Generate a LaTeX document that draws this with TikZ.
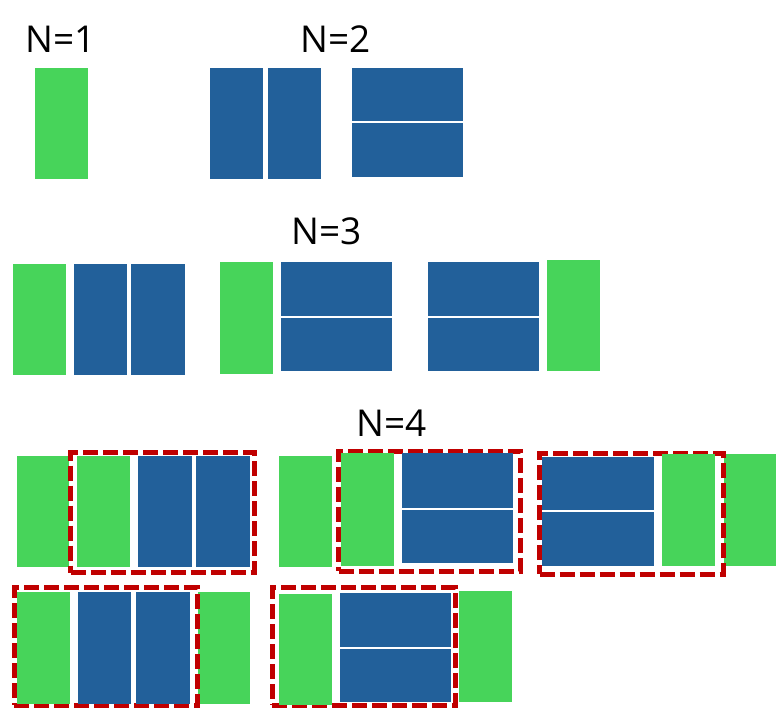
\documentclass[tikz,border=0pt]{standalone}
\usepackage{fontspec}
\setmainfont{Open Sans}
\definecolor{gr}{HTML}{47D45A}
\definecolor{bl}{HTML}{22609A}
\definecolor{rd}{HTML}{C00000}
\newcommand\blk[6]{\node[blk,fill=#6,minimum width={#4-#2},minimum height={#5-#3}] (#1) at ({(#2+#4)/2},{(#3+#5)/2}) {};}
\newcommand\grp[5]{\node[grpbox,minimum width={#4-#2},minimum height={#5-#3}] (#1) at ({(#2+#4)/2},{(#3+#5)/2}) {};}
\begin{document}
\begin{tikzpicture}[x=1pt,y=-1pt,
  blk/.style={rectangle,inner sep=0pt,outer sep=0pt,draw=none},
  grpbox/.style={rectangle,inner sep=0pt,outer sep=0pt,fill=white,draw=rd,line width=5pt,dash pattern=on 15pt off 5pt},
  lbl/.style={anchor=base,inner sep=0pt,font=\fontsize{37}{40}\selectfont}]
\useasboundingbox (0,0) rectangle (776,710);
% labels
\node[lbl] (t1) at (60.5,52) {N=1};
\node[lbl] (t2) at (335.5,52) {N=2};
\node[lbl] (t3) at (326.5,244) {N=3};
\node[lbl] (t4) at (392,436) {N=4};
% N=1
\blk{a1}{35}{68}{88}{179}{gr}
% N=2
\blk{b1}{210}{68}{263}{179}{bl}
\blk{b2}{268}{68}{321}{179}{bl}
\blk{b3}{352}{68}{463}{120.5}{bl}
\blk{b4}{352}{123}{463}{177}{bl}
% N=3
\blk{c1}{13}{264}{66}{375}{gr}
\blk{c2}{74}{264}{127}{375}{bl}
\blk{c3}{131}{264}{185}{375}{bl}
\blk{c4}{220}{262}{273}{374}{gr}
\blk{c5}{281}{262}{392}{316}{bl}
\blk{c6}{281}{318}{392}{371}{bl}
\blk{c7}{428}{262}{539}{316}{bl}
\blk{c8}{428}{318}{539}{371}{bl}
\blk{c9}{547}{260}{600}{371}{gr}
% N=4 group 1
\blk{d0}{17}{456}{69}{567}{gr}
\grp{g1}{70.5}{452.5}{254}{572.5}
\blk{d1}{77}{456}{130}{567}{gr}
\blk{d2}{138}{456}{192}{567}{bl}
\blk{d3}{196}{456}{250}{567}{bl}
% group 2
\blk{e0}{279}{456}{332}{567}{gr}
\grp{g2}{338.5}{451}{520.5}{571}
\blk{e1}{341}{453}{394}{566}{gr}
\blk{e2}{402}{453}{513}{508}{bl}
\blk{e3}{402}{510}{513}{563}{bl}
% group 3
\blk{f0}{723}{454}{776}{566}{gr}
\grp{g3}{539.5}{453.5}{723.5}{574}
\blk{f1}{542}{457}{654}{510}{bl}
\blk{f2}{542}{512}{654}{566}{bl}
\blk{f3}{662}{454}{715}{566}{gr}
% group 4
\blk{h0}{196}{592}{250}{704}{gr}
\grp{g4}{14}{587.5}{197.5}{705}
\blk{h1}{17}{592}{70}{704}{gr}
\blk{h2}{78}{592}{131}{704}{bl}
\blk{h3}{136}{592}{190}{704}{bl}
% group 5
\blk{k0}{459}{591}{512}{702}{gr}
\grp{g5}{272}{587.5}{455}{705}
\blk{k1}{279}{594}{332}{705}{gr}
\blk{k2}{340}{593}{451}{647}{bl}
\blk{k3}{340}{649}{451}{702}{bl}
\end{tikzpicture}
\end{document}
